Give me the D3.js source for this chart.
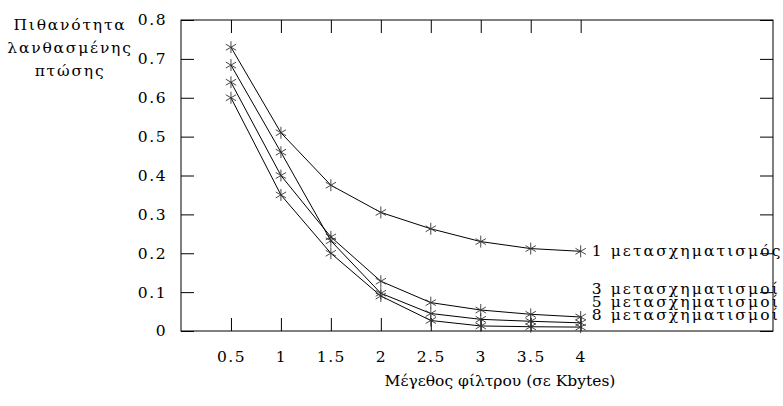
<!DOCTYPE html>
<html>
<head>
<meta charset="utf-8">
<script src="https://cdn.jsdelivr.net/npm/d3@7"></script>
<style>
  body { margin: 0; background: #fff; }
  svg text { font-family: "DejaVu Serif", serif; fill: #000; }
</style>
</head>
<body>
<svg id="chart"></svg>
<script>
// filter size in Kbytes
const sizes = [0.5, 1, 1.5, 2, 2.5, 3, 3.5, 4];

// false drop probability for each number of transformations
const t1 = [0.73, 0.51, 0.375, 0.305, 0.263, 0.23, 0.212, 0.205];
const t3 = [0.64, 0.40, 0.242, 0.128, 0.073, 0.054, 0.043, 0.036];
const t5 = [0.684, 0.46, 0.232, 0.097, 0.045, 0.03, 0.025, 0.021];
const t8 = [0.60, 0.35, 0.20, 0.09, 0.027, 0.013, 0.011, 0.01];

const seriesNames = ["1 μετασχηματισμός", "3 μετασχηματισμοί", "5 μετασχηματισμοί", "8 μετασχηματισμοί"];
const yTicks = [0, 0.1, 0.2, 0.3, 0.4, 0.5, 0.6, 0.7, 0.8];
const xTicks = [0.5, 1, 1.5, 2, 2.5, 3, 3.5, 4];

const yTitle = ["Πιθανότητα", "λανθασμένης", "πτώσης"];
const xTitle = "Μέγεθος φίλτρου (σε Kbytes)";

const width = 783, height = 406;
const margin = { top: 20, right: 10, bottom: 75, left: 181 };
const font = "'DejaVu Serif', serif";

const svg = d3.select("#chart").attr("width", width).attr("height", height);

const x = d3.scaleLinear().domain([0, 5.925]).range([margin.left, width - margin.right]);
const y = d3.scaleLinear().domain([0, 0.8]).range([height - margin.bottom, margin.top]);

// ticks, all pointing inward
svg.append("g")
    .attr("transform", `translate(0,${y(0)})`)
    .call(d3.axisBottom(x).tickValues(xTicks).tickSize(-13).tickPadding(20).tickFormat(d3.format("")))
    .call(g => g.select(".domain").remove());
svg.append("g")
    .attr("transform", `translate(0,${y(0.8)})`)
    .call(d3.axisTop(x).tickValues(xTicks).tickSize(-13).tickFormat(""))
    .call(g => g.select(".domain").remove());
svg.append("g")
    .attr("transform", `translate(${x(0)},0)`)
    .call(d3.axisLeft(y).tickValues(yTicks).tickSize(-13).tickPadding(14).tickFormat(d3.format("")))
    .call(g => g.select(".domain").remove());
svg.append("g")
    .attr("transform", `translate(${x.range()[1]},0)`)
    .call(d3.axisRight(y).tickValues(yTicks).tickSize(-13).tickFormat(""))
    .call(g => g.select(".domain").remove());

svg.selectAll(".tick line").attr("stroke", "#000").attr("stroke-width", 1);
svg.selectAll(".tick text")
    .attr("font-family", null)
    .style("font-family", font)
    .style("font-size", "15.5px")
    .style("letter-spacing", "1.5px");

// frame
svg.append("rect")
    .attr("x", x(0)).attr("y", y(0.8))
    .attr("width", x.range()[1] - x(0))
    .attr("height", y(0) - y(0.8))
    .attr("fill", "none").attr("stroke", "#000").attr("stroke-width", 1);

const series = [t1, t3, t5, t8];

const line = d3.line()
    .x((d, i) => x(sizes[i]))
    .y(d => y(d));

svg.append("g").selectAll("path")
    .data(series)
    .join("path")
    .attr("d", line)
    .attr("fill", "none")
    .attr("stroke", "#000")
    .attr("stroke-width", 1);

const star = d3.symbol().type(d3.symbolAsterisk).size(100);
series.forEach(s => {
  svg.append("g").selectAll("path")
      .data(s)
      .join("path")
      .attr("transform", (d, i) => `translate(${x(sizes[i])},${y(d)})`)
      .attr("d", star)
      .attr("fill", "none")
      .attr("stroke", "#333")
      .attr("stroke-width", 0.9);
});

// series labels at the right end
const lastX = x(sizes[sizes.length - 1]) + 11;
const labelBase = [y(t1[t1.length - 1]) + 5, 294, 307, 320];
svg.append("g").selectAll("text")
    .data(seriesNames)
    .join("text")
    .attr("x", lastX)
    .attr("y", (d, i) => labelBase[i])
    .style("font-family", font)
    .style("font-size", "15.5px")
    .style("letter-spacing", "2.1px")
    .text(d => d);

// y title, three centered lines
svg.append("g").selectAll("text")
    .data(yTitle)
    .join("text")
    .attr("x", 70)
    .attr("y", (d, i) => 30 + i * 23)
    .attr("text-anchor", "middle")
    .style("font-family", font)
    .style("font-size", "15.5px")
    .style("letter-spacing", "1.8px")
    .text(d => d);

// x title
svg.append("text")
    .attr("x", 500)
    .attr("y", 386)
    .attr("text-anchor", "middle")
    .style("font-family", font)
    .style("font-size", "15.5px")
    .text(xTitle);
</script>
</body>
</html>
